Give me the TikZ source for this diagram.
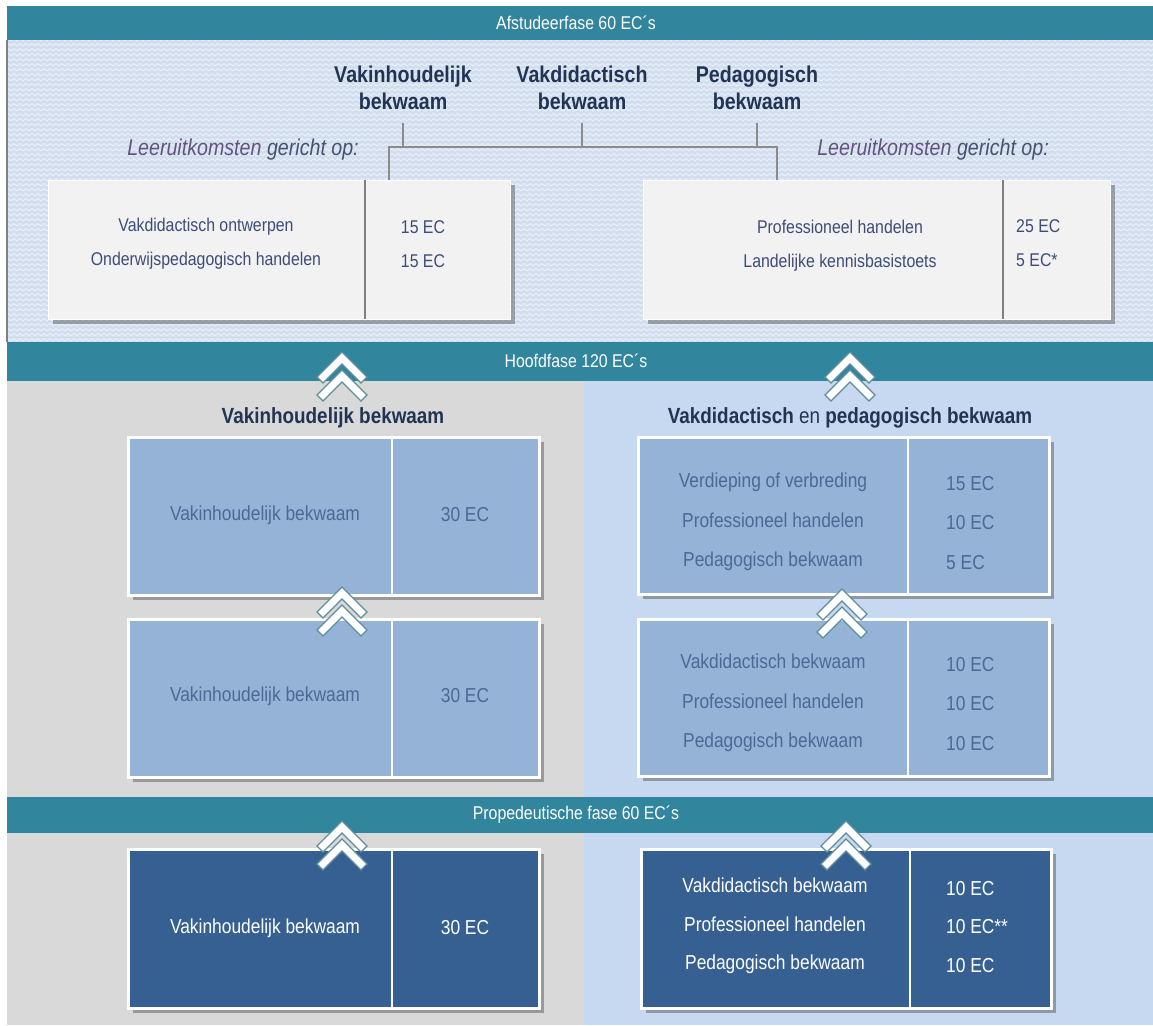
\documentclass[tikz,border=0pt]{standalone}
\usepackage{fontspec}
\setmainfont{Liberation Sans}[FakeStretch=0.86]
\usepackage{tikz}
\usetikzlibrary{shadows,patterns}
\definecolor{barteal}{RGB}{49,133,156}
\definecolor{topbg}{RGB}{210,222,239}
\definecolor{topzig}{RGB}{234,240,248}
\definecolor{leftgray}{RGB}{217,217,217}
\definecolor{rightblue}{RGB}{198,217,241}
\definecolor{midblue}{RGB}{149,179,215}
\definecolor{darkblue}{RGB}{54,96,146}
\definecolor{topgray}{RGB}{242,242,242}
\definecolor{headnavy}{RGB}{34,52,84}
\definecolor{boxtextblue}{RGB}{78,104,150}
\definecolor{toptextblue}{RGB}{62,76,120}
\definecolor{leerpurple}{RGB}{100,82,128}
\definecolor{leergray}{RGB}{72,82,112}
\definecolor{chevedge}{RGB}{96,140,156}
\newcommand\pxu{0.02cm}
\pgfdeclarepatternformonly{zigzag}{\pgfqpoint{0pt}{0pt}}{\pgfqpoint{3.4pt}{2.8pt}}{\pgfqpoint{3.4pt}{2.8pt}}{%
	\pgfsetlinewidth{0.6pt}
	\pgfpathmoveto{\pgfqpoint{0pt}{0.6pt}}
	\pgfpathlineto{\pgfqpoint{1.7pt}{2.0pt}}
	\pgfpathlineto{\pgfqpoint{3.4pt}{0.6pt}}
	\pgfusepath{stroke}}

\begin{document}
\begin{tikzpicture}[x=0.02cm,y=-0.02cm,
		bartext/.style={text=white,font=\fontsize{10.5}{12}\selectfont},
		toplabel/.style={align=center,text=headnavy,font=\fontsize{13}{15.3}\selectfont\bfseries},
		leer/.style={text=leergray,font=\fontsize{13}{15}\selectfont\itshape},
		bracket/.style={draw=gray!90,line width=0.6pt},
		shadowed/.style={drop shadow={shadow xshift=2.5pt,shadow yshift=-2.5pt,opacity=.45,fill=black!70}},
		topbox/.style={shadowed,draw=white,line width=0.8pt,fill=topgray,anchor=north west,inner sep=0pt},
		midbox/.style={shadowed,draw=white,line width=1.6pt,fill=midblue,anchor=north west,inner sep=0pt},
		darkbox/.style={shadowed,draw=white,line width=1.6pt,fill=darkblue,anchor=north west,inner sep=0pt},
		toptext/.style={align=center,text=toptextblue,font=\fontsize{10.5}{19.3}\selectfont},
		midtext/.style={align=center,text=boxtextblue,font=\fontsize{11.5}{22.5}\selectfont},
		darktext/.style={align=center,text=white,font=\fontsize{11.5}{22}\selectfont},
		midhead/.style={text=headnavy,font=\fontsize{12.5}{14}\selectfont\bfseries},
		dblchev/.pic={
			\foreach \dy in {0,18}
				\filldraw[fill=white,draw=chevedge,line width=0.7pt] (-25,25+\dy) -- (0,\dy) -- (25,25+\dy) -- (19,31+\dy) -- (0,12+\dy) -- (-19,31+\dy) -- cycle;
		}]
	\useasboundingbox (0,0) rectangle (1153,1025);
	\fill[white] (0,0) rectangle (1153,1025);

	\fill[topbg] (7,40) rectangle (1153,342);
	\fill[pattern=zigzag,pattern color=topzig] (7,40) rectangle (1153,342);
	\draw[gray,line width=0.8pt] (7,40) -- (7,342);
	\fill[leftgray] (7,381) rectangle (584,797);
	\fill[rightblue] (584,381) rectangle (1153,797);
	\fill[leftgray] (7,833) rectangle (584,1025);
	\fill[rightblue] (584,833) rectangle (1153,1025);

	\fill[barteal] (7,6) rectangle (1153,40);
	\fill[barteal] (7,342) rectangle (1153,381);
	\fill[barteal] (7,797) rectangle (1153,833);
	\node[bartext] (afst) at (576,23) {Afstudeerfase 60 EC´s};
	\node[bartext] (hoofd) at (576,361) {Hoofdfase 120 EC´s};
	\node[bartext] (prop) at (576,815) {Propedeutische fase 60 EC´s};

	\node[toplabel] (lvh) at (403,88) {Vakinhoudelijk\\bekwaam};
	\node[toplabel] (lvd) at (582,88) {Vakdidactisch\\bekwaam};
	\node[toplabel] (lpb) at (757,88) {Pedagogisch\\bekwaam};
	\node[leer] (leerl) at (243,150) {\textcolor{leerpurple}{Leeruitkomsten} gericht op:};
	\node[leer] (leerr) at (933,150) {\textcolor{leerpurple}{Leeruitkomsten} gericht op:};

	\node[topbox,minimum width=462*\pxu,minimum height=139*\pxu] (tlbox) at (48,180) {};
	\node[topbox,minimum width=467*\pxu,minimum height=139*\pxu] (trbox) at (643,180) {};
	\draw[gray,line width=0.6pt] (365,180) -- (365,319);
	\draw[gray,line width=0.6pt] (1003,180) -- (1003,319);
	\node[toptext] (tltxt) at (206,244) {Vakdidactisch ontwerpen\\Onderwijspedagogisch handelen};
	\node[toptext] (tlec) at (423,244) {15 EC\\15 EC};
	\node[toptext] (trtxt) at (840,246) {Professioneel handelen\\Landelijke kennisbasistoets};
	\node[toptext,anchor=west,align=left] (trec) at (1010,243) {25 EC\\5 EC*};

	\coordinate (jl) at (389,147);
	\coordinate (jr) at (777,147);
	\draw[bracket] (tlbox.north -| jl) -- (jl) -- (jr) -- (trbox.north -| jr);
	\draw[bracket,shorten <=4pt] (lvh.south) -- (lvh.south |- jl);
	\draw[bracket,shorten <=4pt] (lvd.south) -- (lvd.south |- jl);
	\draw[bracket,shorten <=4pt] (lpb.south) -- (lpb.south |- jl);

	\node[midhead] (hvh) at (333,418) {Vakinhoudelijk bekwaam};
	\node[midhead] (hvp) at (850,418) {Vakdidactisch {\mdseries en} pedagogisch bekwaam};

	\node[midbox,minimum width=411*\pxu,minimum height=158*\pxu] (vh2) at (127,436) {};
	\node[midbox,minimum width=411*\pxu,minimum height=158*\pxu] (vh1) at (127,618) {};
	\node[midbox,minimum width=411*\pxu,minimum height=157*\pxu] (vp2) at (637,436) {};
	\node[midbox,minimum width=411*\pxu,minimum height=157*\pxu] (vp1) at (637,618) {};
	\draw[white,line width=1pt] (392,436) -- (392,594);
	\draw[white,line width=1pt] (392,618) -- (392,776);
	\draw[white,line width=1pt] (908,436) -- (908,593);
	\draw[white,line width=1pt] (908,618) -- (908,775);
	\node[midtext] (vh2txt) at (265,515) {Vakinhoudelijk bekwaam};
	\node[midtext] (vh2ec) at (465,515) {30 EC};
	\node[midtext] (vh1txt) at (265,696) {Vakinhoudelijk bekwaam};
	\node[midtext] (vh1ec) at (465,696) {30 EC};
	\node[midtext] (vp2txt) at (773,522) {Verdieping of verbreding\\Professioneel handelen\\Pedagogisch bekwaam};
	\node[midtext,anchor=west,align=left] (vp2ec) at (940,523) {15 EC\\10 EC\\5 EC};
	\node[midtext] (vp1txt) at (773,703) {Vakdidactisch bekwaam\\Professioneel handelen\\Pedagogisch bekwaam};
	\node[midtext,anchor=west,align=left] (vp1ec) at (940,704) {10 EC\\10 EC\\10 EC};

	\node[darkbox,minimum width=411*\pxu,minimum height=159*\pxu] (pvh) at (127,848) {};
	\node[darkbox,minimum width=410*\pxu,minimum height=159*\pxu] (pvp) at (640,848) {};
	\draw[white,line width=1pt] (392,848) -- (392,1007);
	\draw[white,line width=1pt] (910,848) -- (910,1007);
	\node[darktext] (pvhtxt) at (265,928) {Vakinhoudelijk bekwaam};
	\node[darktext] (pvhec) at (465,928) {30 EC};
	\node[darktext] (pvptxt) at (775,926) {Vakdidactisch bekwaam\\Professioneel handelen\\Pedagogisch bekwaam};
	\node[darktext,anchor=west,align=left] (pvpec) at (940,927) {10 EC\\10 EC**\\10 EC};

	\pic at (342,352) {dblchev};
	\pic at (850,352) {dblchev};
	\pic at (342,587) {dblchev};
	\pic at (842,589) {dblchev};
	\pic at (342,821) {dblchev};
	\pic at (846,821) {dblchev};
\end{tikzpicture}
\end{document}
